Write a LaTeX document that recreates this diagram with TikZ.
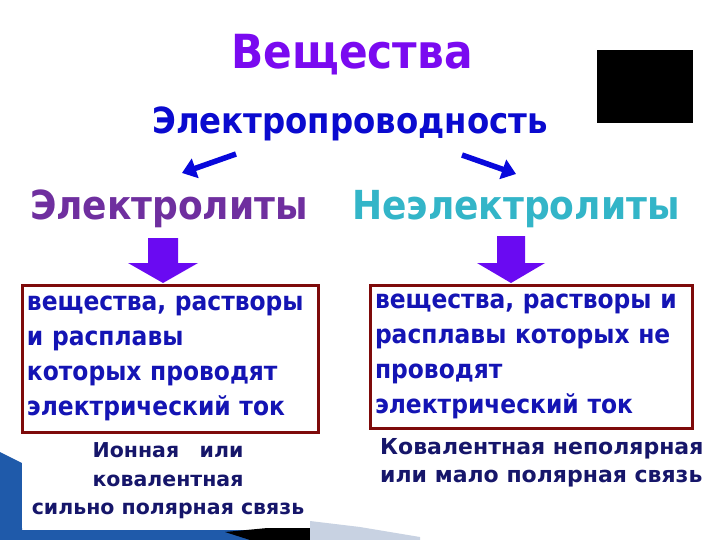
\documentclass[tikz,border=0pt]{standalone}
\usepackage{fontspec}
\setmainfont{DejaVu Sans}
\newfontfamily\condfont{DejaVu Sans Condensed}
\usetikzlibrary{arrows.meta}
\definecolor{titleviolet}{HTML}{7A0AF0}
\definecolor{condblue}{HTML}{0A0ACF}
\definecolor{elpurple}{HTML}{6F2F9F}
\definecolor{neteal}{HTML}{33B5C8}
\definecolor{arrowblue}{HTML}{0808DC}
\definecolor{blockviolet}{HTML}{6A0AF2}
\definecolor{boxred}{HTML}{7E0A0A}
\definecolor{boxtext}{HTML}{1414B4}
\definecolor{navy}{HTML}{16166A}
\definecolor{swoosh}{HTML}{1F5AAA}
\definecolor{swooshlight}{HTML}{C8D2E2}
\tikzset{
  heading/.style={font=\condfont\bfseries\fontsize{40}{40}\selectfont, inner sep=0pt},
  defbox/.style={draw=boxred, line width=3pt, fill=white, align=left, inner sep=5pt,
    text=boxtext, font=\condfont\bfseries\fontsize{26}{35}\selectfont},
  bondtext/.style={text=navy, font=\bfseries\fontsize{20.5}{28.5}\selectfont, inner sep=0pt},
  thinarrow/.style={arrowblue, line width=5.5pt, -{Triangle[length=14pt,width=20pt]}},
}
\begin{document}
\begin{tikzpicture}[x=1pt,y=-1pt]
    \useasboundingbox[fill=white] (0,0) rectangle (720,540);
    % template swoosh
    \fill[swoosh] (0,452) -- (22,463) -- (22,530) -- (240,530) -- (310,531) -- (310,540) -- (0,540) -- cycle;
    \fill[black] (225,532) -- (310,524) -- (310,540) -- (250,540) -- cycle;
    \fill[swooshlight] (310,521) -- (360,527) -- (420,537) -- (420,540) -- (310,540) -- cycle;
    \fill[white] (22,432) rectangle (310,528);
    % titles
    \node[text=titleviolet, font=\condfont\bfseries\fontsize{47}{47}\selectfont, inner sep=0pt] (subst) at (352,55) {Вещества};
    \node[text=condblue, font=\condfont\bfseries\fontsize{36}{36}\selectfont, inner sep=0pt] (cond) at (350,124) {Электропроводность};
    \node[fill=black, minimum width=96pt, minimum height=73pt, inner sep=0pt] (blk) at (645,86.5) {};
    % two classes
    \node[heading, text=elpurple] (elyt) at (169,209) {Электролиты};
    \node[heading, text=neteal] (nonel) at (516,209) {Неэлектролиты};
    \coordinate (la) at (236,154);
    \coordinate (lb) at (182,173);
    \coordinate (ra) at (462,155);
    \coordinate (rb) at (516,174);
    \draw[thinarrow] (la) -- (lb);
    \draw[thinarrow] (ra) -- (rb);
    % block arrows
    \fill[blockviolet] (148,238) -- (178,238) -- (178,263) -- (198,263) -- (163,283)
        -- (128,263) -- (148,263) -- cycle;
    \fill[blockviolet] (497,236) -- (525,236) -- (525,263) -- (545,263) -- (511,283)
        -- (477,263) -- (497,263) -- cycle;
    % definitions
    \node[defbox, text width=286pt, minimum height=147pt] (defl) at (170,358.5)
        {вещества, растворы\\и расплавы\\которых проводят\\электрический ток};
    \node[defbox, text width=312pt, minimum height=143pt] (defr) at (531,356.5)
        {вещества, растворы и\\расплавы которых не\\проводят\\электрический ток};
    % bonds
    \node[bondtext, align=center] (bondl) at (168,481)
        {Ионная\quad или\\ковалентная\\сильно полярная связь};
    \node[bondtext, font=\bfseries\fontsize{22}{28}\selectfont, align=left, anchor=west] (bondr) at (380,463)
        {Ковалентная неполярная\\или мало полярная связь};
\end{tikzpicture}
\end{document}
